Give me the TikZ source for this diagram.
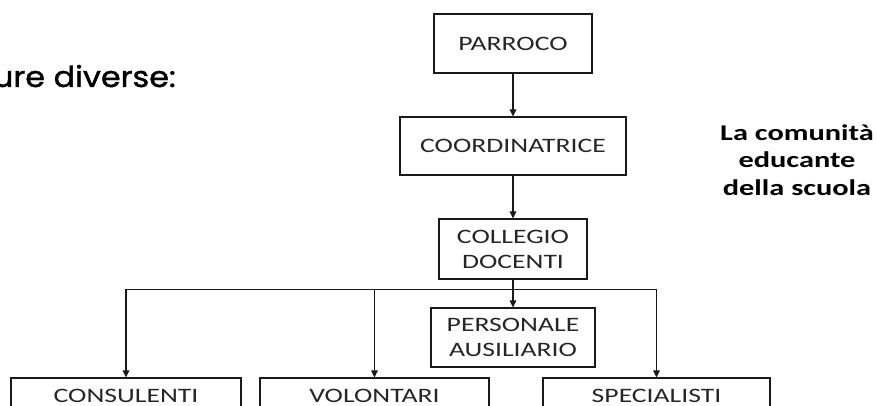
\documentclass[tikz,border=0pt]{standalone}
\usepackage{fontspec}
\setmainfont{Carlito}
\newfontfamily\boxfont[FakeStretch=1.35]{Carlito}
\newfontfamily\comicfont[FakeBold=1.3]{Poppins}
\usetikzlibrary{arrows.meta}
\begin{document}
\begin{tikzpicture}[x=1pt,y=-1pt,
  box/.style={draw=black!90, line width=1.1pt, inner sep=0pt, text=black!85,
    font=\boxfont\fontsize{20.5}{25}\selectfont, align=center},
  conn/.style={line width=1.1pt, draw=black!90, -{Triangle[length=7pt,width=6.5pt]}},
  title/.style={inner sep=0pt, align=center, text=black,
    font=\boxfont\bfseries\fontsize{22.5}{27.5}\selectfont},
  comic/.style={inner sep=0pt, text=black, font=\comicfont\fontsize{29}{34}\selectfont}]
\clip (0,0) rectangle (877,406);
\fill[white] (0,0) rectangle (877,406);

\node[box, minimum width=158pt, minimum height=59pt] (par) at (513,43.5) {PARROCO};
\node[box, minimum width=226pt, minimum height=58pt] (coo) at (513,146) {COORDINATRICE};
\node[box, minimum width=148pt, minimum height=60pt] (col) at (513,249) {COLLEGIO\\DOCENTI};
\node[box, minimum width=164pt, minimum height=59pt] (per) at (513,337.5) {PERSONALE\\AUSILIARIO};
\node[box, minimum width=230pt, minimum height=36pt] (con) at (126,396) {CONSULENTI};
\node[box, minimum width=229pt, minimum height=36pt] (vol) at (374.5,396) {VOLONTARI};
\node[box, minimum width=227pt, minimum height=36pt] (spe) at (656.5,396) {SPECIALISTI};

\draw[conn] (par) -- (coo);
\draw[conn] (coo) -- (col);
\draw[conn] (col.south) -- ++(0,10) -| (con.north);
\draw[conn] (col.south) -- ++(0,10) -| (vol.north);
\draw[conn] (col.south) -- ++(0,10) -| (spe.north);
\draw[conn] (col) -- (per);

\node[title] (tit) at (797,160) {La comunità\\educante\\della scuola};
\node[comic, anchor=base east] (fig) at (176,87) {\scalebox{1.1}[1]{gure diverse:}};
\end{tikzpicture}
\end{document}
